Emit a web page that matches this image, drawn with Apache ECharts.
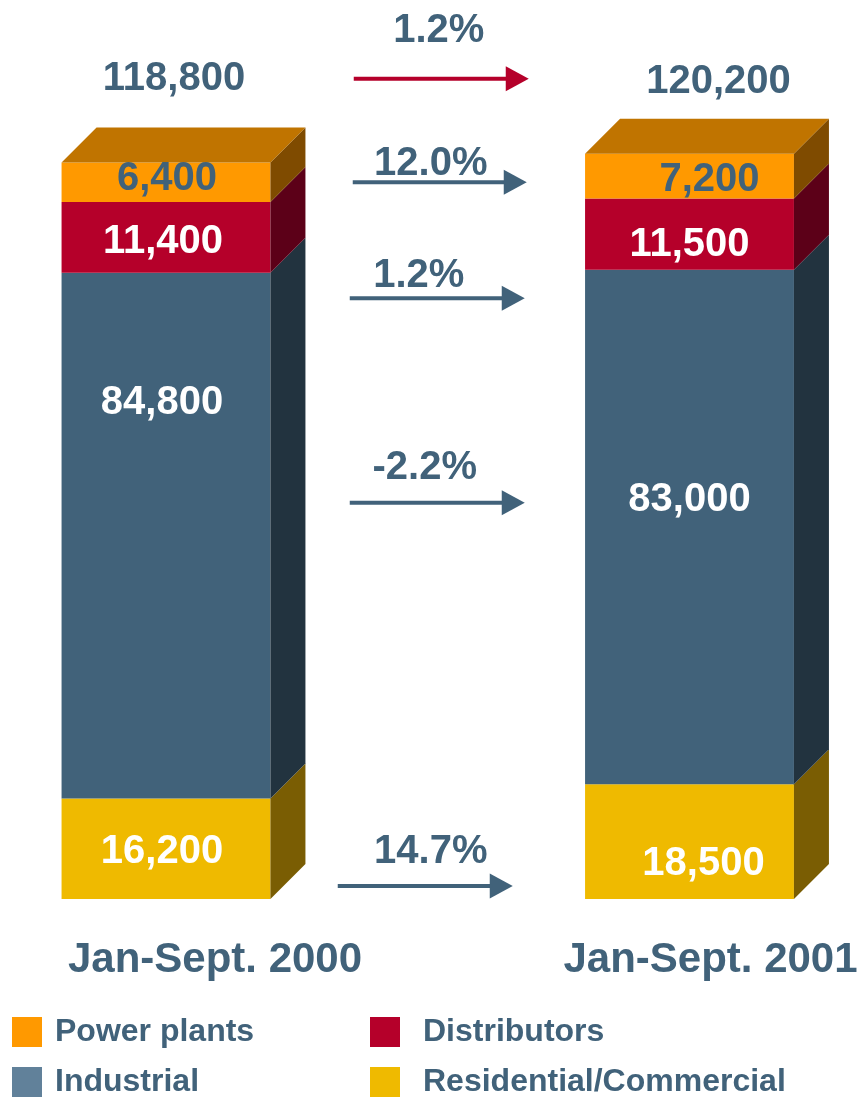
<!DOCTYPE html>
<html>
<head>
<meta charset="utf-8">
<script src="https://cdn.jsdelivr.net/npm/echarts@6/dist/echarts.min.js"></script>
<style>
html,body{margin:0;padding:0;background:#fff;}
#chart{width:861px;height:1099px;}
</style>
</head>
<body>
<div id="chart"></div>
<script>
// ---- data ----
const categories = ['Jan-Sept. 2000', 'Jan-Sept. 2001'];
const residential = [16200, 18500];
const industrial = [84800, 83000];
const distributors = [11400, 11500];
const powerPlants = [6400, 7200];
const totals = [118800, 120200];
const changeLabels = ['1.2%', '12.0%', '1.2%', '-2.2%', '14.7%'];
const seriesNames = ['Residential/Commercial', 'Industrial', 'Distributors', 'Power plants'];

// ---- styling / layout config ----
const SLATE = '#41627A';
const FONT = '"Liberation Sans", Arial, Helvetica, sans-serif';
const DEPTH = 35;
const TEXT_DY = 3.5;
const styles = {
  'Residential/Commercial': {front: '#EFBA00', side: '#7A5D03', legend: '#EFBA00', text: '#FFFFFF',
     labelOff: [[-4, 0], [14, 19]]},
  'Industrial': {front: '#41627A', side: '#22333F', legend: '#61819A', text: '#FFFFFF',
     labelOff: [[-4, -136], [0, -31]]},
  'Distributors': {front: '#B5002A', side: '#5C0018', legend: '#B5002A', text: '#FFFFFF',
     labelOff: [[-3, 1], [0, 7]]},
  'Power plants': {front: '#FF9900', side: '#7F4B00', top: '#C07400', legend: '#FF9900', text: SLATE,
     labelOff: [[1, -7], [20, 0]]}
};
// annotation arrows (level in axis units, x offsets relative to the midpoint between bars)
const arrowCfg = [
  {level: 132300, from: -74, to: 101, labelDx: 11, labelDy: -51, color: '#B5002A'},
  {level: 115600, from: -75, to: 99, labelDx: 3, labelDy: -22, color: SLATE},
  {level: 96900, from: -78, to: 97, labelDx: -9, labelDy: -26, color: SLATE},
  {level: 63900, from: -78, to: 97, labelDx: -3, labelDy: -38, color: SLATE},
  {level: 2100, from: -90, to: 85, labelDx: 3, labelDy: -38, color: SLATE}
];
const totalOff = [[8, -87], [29, -75]];

const stackArrays = [residential, industrial, distributors, powerPlants];

function barSeries(k) {
  const name = seriesNames[k];
  const st = styles[name];
  const data = categories.map((c, i) => {
    let base = 0;
    for (let j = 0; j < k; j++) base += stackArrays[j][i];
    return [i, base, base + stackArrays[k][i]];
  });
  const isTop = k === stackArrays.length - 1;
  return {
    type: 'custom',
    name: name,
    itemStyle: {color: st.legend},
    data: data,
    z: 2,
    renderItem: function (params, api) {
      const i = api.value(0);
      const pb = api.coord([i, api.value(1)]);
      const pt = api.coord([i, api.value(2)]);
      const unit = api.coord([1, 0])[0] - api.coord([0, 0])[0];
      const bw = unit * 0.399;
      const d = DEPTH;
      const x0 = pb[0] - bw / 2, x1 = pb[0] + bw / 2, yb = pb[1], yt = pt[1];
      const children = [
        {type: 'rect', shape: {x: x0, y: yt, width: bw, height: yb - yt}, style: {fill: st.front}},
        {type: 'polygon', shape: {points: [[x1, yb], [x1 + d, yb - d], [x1 + d, yt - d], [x1, yt]]}, style: {fill: st.side}}
      ];
      if (isTop) {
        children.push({type: 'polygon', shape: {points: [[x0, yt], [x0 + d, yt - d], [x1 + d, yt - d], [x1, yt]]}, style: {fill: st.top}});
      }
      const off = st.labelOff[i];
      children.push({
        type: 'text', z2: 10,
        style: {
          text: stackArrays[k][i].toLocaleString('en-US'),
          x: pb[0] + off[0], y: (yb + yt) / 2 + off[1] + TEXT_DY,
          fill: st.text, font: 'bold 40px ' + FONT,
          align: 'center', verticalAlign: 'middle'
        }
      });
      return {type: 'group', children: children};
    }
  };
}

const series = [0, 1, 2, 3].map(barSeries);

series.push({
  type: 'custom',
  name: 'totals',
  data: totals.map((t, i) => [i, t]),
  z: 3,
  renderItem: function (params, api) {
    const i = api.value(0);
    const p = api.coord([i, api.value(1)]);
    return {
      type: 'text',
      style: {
        text: totals[i].toLocaleString('en-US'),
        x: p[0] + totalOff[i][0], y: p[1] + totalOff[i][1] + TEXT_DY,
        fill: SLATE, font: 'bold 40px ' + FONT, align: 'center', verticalAlign: 'middle'
      }
    };
  }
});

series.push({
  type: 'custom',
  name: 'changes',
  data: arrowCfg.map((a, i) => [0, a.level, i]),
  z: 3,
  renderItem: function (params, api) {
    const idx = api.value(2);
    const a = arrowCfg[idx];
    const mid = (api.coord([0, 0])[0] + api.coord([1, 0])[0]) / 2;
    const y = api.coord([0, api.value(1)])[1];
    const xs = mid + a.from, xe = mid + a.to;
    const head = 23, hh = 12.5;
    return {
      type: 'group',
      children: [
        {type: 'rect', shape: {x: xs, y: y - 2, width: xe - head - xs + 1, height: 4}, style: {fill: a.color}},
        {type: 'polygon', shape: {points: [[xe - head, y - hh], [xe, y], [xe - head, y + hh]]}, style: {fill: a.color}},
        {type: 'text', style: {
          text: changeLabels[idx], x: mid + a.labelDx, y: y + a.labelDy + TEXT_DY,
          fill: SLATE, font: 'bold 40px ' + FONT, align: 'center', verticalAlign: 'middle'}}
      ]
    };
  }
});

const legendTextL = {color: SLATE, fontSize: 32, fontWeight: 'bold', fontFamily: FONT, padding: [0, 0, 0, 8]};
const legendTextR = {color: SLATE, fontSize: 32, fontWeight: 'bold', fontFamily: FONT, padding: [0, 0, 0, 18]};
const option = {
  animation: false,
  backgroundColor: '#ffffff',
  grid: {left: 166, right: 171.5, top: 31, bottom: 200, containLabel: false, outerBoundsMode: 'none'},
  xAxis: {
    type: 'category',
    data: categories,
    boundaryGap: false,
    axisLine: {show: false},
    axisTick: {show: false},
    axisLabel: {
      margin: 39,
      interval: 0,
      hideOverlap: false,
      formatter: function (v, i) { return '{c' + i + '|' + v + '}'; },
      rich: {
        c0: {color: SLATE, fontSize: 42, fontWeight: 'bold', fontFamily: FONT, padding: [0, 0, 0, 98], lineHeight: 44},
        c1: {color: SLATE, fontSize: 42, fontWeight: 'bold', fontFamily: FONT, padding: [0, 0, 0, 42], lineHeight: 44}
      }
    }
  },
  yAxis: {type: 'value', min: 0, max: 140000, show: false, splitLine: {show: false}},
  legend: [
    {
      orient: 'vertical', left: 12, top: 1016, padding: 0, itemWidth: 30, itemHeight: 30, itemGap: 18,
      icon: 'rect', textStyle: legendTextL, selectedMode: false,
      data: [
        {name: 'Power plants', itemStyle: {color: styles['Power plants'].legend}},
        {name: 'Industrial', itemStyle: {color: styles['Industrial'].legend}}
      ]
    },
    {
      orient: 'vertical', left: 370, top: 1016, padding: 0, itemWidth: 30, itemHeight: 30, itemGap: 18,
      icon: 'rect', textStyle: legendTextR, selectedMode: false,
      data: [
        {name: 'Distributors', itemStyle: {color: styles['Distributors'].legend}},
        {name: 'Residential/Commercial', itemStyle: {color: styles['Residential/Commercial'].legend}}
      ]
    }
  ],
  series: series
};

const chart = echarts.init(document.getElementById('chart'), null, {renderer: 'canvas'});
chart.setOption(option);
</script>
</body>
</html>
